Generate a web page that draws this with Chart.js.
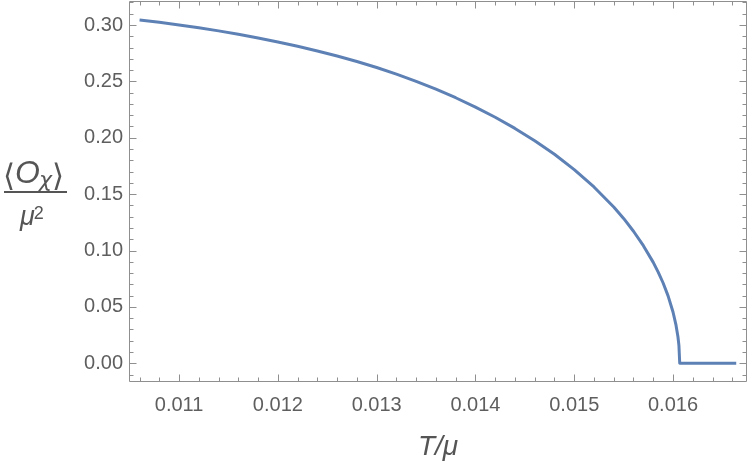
<!DOCTYPE html>
<html>
<head>
<meta charset="utf-8">
<script src="https://cdn.jsdelivr.net/npm/chart.js@4/dist/chart.umd.min.js"></script>
<style>
html,body{margin:0;padding:0;background:#ffffff;}
#wrap{width:750px;height:465px;position:relative;}
</style>
</head>
<body>
<div id="wrap"><canvas id="c" width="750" height="465"></canvas></div>
<script>
// ---- data ----
const temperature = [0.0106, 0.0108, 0.0110, 0.0112, 0.0114, 0.0116, 0.0118, 0.0120, 0.0122, 0.0124,
  0.0126, 0.0128, 0.0130, 0.0132, 0.0134, 0.0136, 0.0138, 0.0140, 0.0142, 0.0144,
  0.0146, 0.0148, 0.0150, 0.0152, 0.0154, 0.0155, 0.0156, 0.0157, 0.0158, 0.01585,
  0.0159, 0.01595, 0.0160, 0.01603, 0.01605, 0.01606, 0.016068, 0.0163, 0.01664];
const condensate = [0.3044, 0.3024, 0.3001, 0.2976, 0.2948, 0.2918, 0.2885, 0.2849, 0.2811, 0.2770,
  0.2725, 0.2676, 0.2623, 0.2564, 0.2500, 0.2431, 0.2355, 0.2272, 0.2182, 0.2083,
  0.1974, 0.1854, 0.1718, 0.1564, 0.1386, 0.1285, 0.1171, 0.1043, 0.0895, 0.0809,
  0.0712, 0.0598, 0.0455, 0.0340, 0.0235, 0.0156, 0.0, 0.0, 0.0];
const xTickValues = [0.011, 0.012, 0.013, 0.014, 0.015, 0.016];
const xTickLabels = ["0.011", "0.012", "0.013", "0.014", "0.015", "0.016"];
const yTickValues = [0.00, 0.05, 0.10, 0.15, 0.20, 0.25, 0.30];
const yTickLabels = ["0.00", "0.05", "0.10", "0.15", "0.20", "0.25", "0.30"];
const xRange = [0.010493, 0.016749];
const yRange = [-0.0166, 0.3213];

// ---- styles ----
const LINE_COLOR = "rgb(94,129,181)";
const FRAME_COLOR = "#8f8f8f";
const LABEL_COLOR = "#5e5e5e";
const TITLE_COLOR = "#555555";
const FONT = '"Liberation Sans", Arial, Helvetica, sans-serif';

const points = temperature.map((t, i) => ({x: t, y: condensate[i]}));

const framePlugin = {
  id: "mmaFrame",
  afterDraw(chart) {
    const {ctx, chartArea: a, scales} = chart;
    const xs = scales.x, ys = scales.y;
    ctx.save();
    ctx.strokeStyle = FRAME_COLOR;
    ctx.lineWidth = 1;
    const L = Math.round(a.left) + 0.5, R = Math.round(a.right) - 0.5;
    const T = Math.round(a.top) + 0.5, B = Math.round(a.bottom) - 0.5;
    ctx.beginPath();
    ctx.rect(L, T, R - L, B - T);
    ctx.stroke();
    ctx.beginPath();
    // x ticks (major + minor), inward, top and bottom
    for (let k = 50; k <= 86; k++) {
      const v = k * 0.0002;
      if (v < xRange[0] || v > xRange[1]) continue;
      const len = (k % 5 === 0) ? 7 : 4;
      const px = Math.round(xs.getPixelForValue(v)) + 0.5;
      ctx.moveTo(px, B); ctx.lineTo(px, B - len);
      ctx.moveTo(px, T); ctx.lineTo(px, T + len);
    }
    // y ticks
    for (let k = -2; k <= 33; k++) {
      const v = k * 0.01;
      if (v < yRange[0] || v > yRange[1]) continue;
      const len = (k % 5 === 0) ? 7 : 4;
      const py = Math.round(ys.getPixelForValue(v)) + 0.5;
      ctx.moveTo(L, py); ctx.lineTo(L + len, py);
      ctx.moveTo(R, py); ctx.lineTo(R - len, py);
    }
    ctx.stroke();

    // axis titles
    ctx.fillStyle = TITLE_COLOR;
    ctx.textBaseline = "alphabetic";
    ctx.textAlign = "center";
    ctx.font = "italic 28px " + FONT;
    ctx.fillText("T/\u03bc", (a.left + a.right) / 2, 455);

    // y title: fraction <O_chi> / mu^2
    ctx.textAlign = "left";
    let x0 = 3;
    const nb = 183;
    ctx.font = "31px \"DejaVu Sans\", sans-serif";
    ctx.fillText("\u27e8", x0, nb + 3);
    x0 += ctx.measureText("\u27e8").width;
    ctx.font = "italic 32px " + FONT;
    ctx.fillText("O", x0, nb);
    x0 += ctx.measureText("O").width - 1;
    ctx.font = "italic 22px \"DejaVu Sans\", sans-serif";
    ctx.fillText("\u03c7", x0, nb + 4);
    x0 += ctx.measureText("\u03c7").width;
    ctx.font = "31px \"DejaVu Sans\", sans-serif";
    ctx.fillText("\u27e9", x0, nb + 3);
    // fraction bar
    ctx.fillRect(4, 191, 63, 2);
    // denominator
    ctx.font = "italic 27px " + FONT;
    ctx.fillText("\u03bc", 20, 225);
    const mw = ctx.measureText("\u03bc").width;
    ctx.font = "18px " + FONT;
    ctx.fillText("2", 20 + mw - 1, 219);
    ctx.restore();
  }
};

new Chart(document.getElementById("c"), {
  type: "scatter",
  data: {
    datasets: [{
      data: points,
      showLine: true,
      borderColor: LINE_COLOR,
      backgroundColor: LINE_COLOR,
      borderWidth: 3,
      pointRadius: 0,
      tension: 0,
      borderJoinStyle: "round"
    }]
  },
  options: {
    responsive: false,
    animation: false,
    devicePixelRatio: 1,
    layout: {padding: {left: 0, right: 3, top: 1, bottom: 0}},
    plugins: {legend: {display: false}, tooltip: {enabled: false}},
    scales: {
      x: {
        type: "linear",
        min: xRange[0], max: xRange[1],
        grid: {display: false, drawTicks: false},
        border: {display: false},
        afterBuildTicks: s => { s.ticks = xTickValues.map(v => ({value: v})); },
        afterFit: s => { s.height = 83; s.paddingLeft = 0; s.paddingRight = 0; s.paddingTop = 0; s.paddingBottom = 0; },
        ticks: {
          color: LABEL_COLOR,
          font: {family: FONT, size: 20},
          padding: 11,
          maxRotation: 0,
          autoSkip: false,
          callback: (v) => { const i = xTickValues.findIndex(t => Math.abs(t - v) < 1e-9); return i >= 0 ? xTickLabels[i] : ""; }
        }
      },
      y: {
        type: "linear",
        min: yRange[0], max: yRange[1],
        grid: {display: false, drawTicks: false},
        border: {display: false},
        afterBuildTicks: s => { s.ticks = yTickValues.map(v => ({value: v})); },
        afterFit: s => { s.width = 129; s.paddingTop = 0; s.paddingBottom = 0; s.paddingLeft = 0; s.paddingRight = 0; },
        ticks: {
          color: LABEL_COLOR,
          font: {family: FONT, size: 20},
          padding: 6,
          autoSkip: false,
          callback: (v) => { const i = yTickValues.findIndex(t => Math.abs(t - v) < 1e-9); return i >= 0 ? yTickLabels[i] : ""; }
        }
      }
    }
  },
  plugins: [framePlugin]
});
</script>
</body>
</html>
